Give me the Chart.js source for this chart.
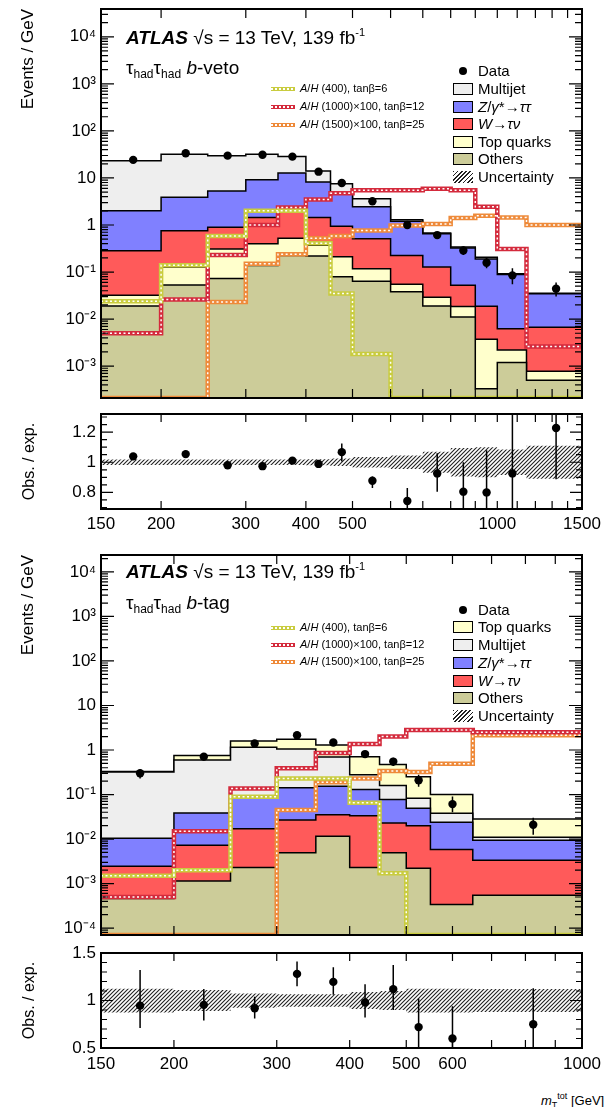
<!DOCTYPE html>
<html>
<head>
<meta charset="utf-8">
<title>ATLAS tau_had tau_had mT tot</title>
<script src="https://cdn.jsdelivr.net/npm/chart.js@4.4.1/dist/chart.umd.min.js"></script>
<style>
  body { margin: 0; background: #fff; }
  #page { position: relative; width: 608px; height: 1107px; overflow: hidden; font-family: "Liberation Sans", Arial, sans-serif; color: #000; }
  canvas { position: absolute; left: 0; }
  .txt { position: absolute; white-space: nowrap; line-height: 1; }
  .txt sup { font-size: 11px; vertical-align: 8px; line-height: 0; }
  .txt sub { font-size: 12px; vertical-align: -4px; line-height: 0; }
  .atlas { font-size: 19px; }
  .leg { font-size: 15px; }
  .sigtxt { font-size: 11px; }
  .xtitle { font-size: 13px; }
  .xtitle sup { font-size: 9px; vertical-align: 6px; }
  .xtitle sub { font-size: 9px; vertical-align: -3px; }
  .box { position: absolute; width: 18px; height: 10px; border: 1.5px solid #000; }
  .hatch { position: absolute; width: 20px; height: 12px; background: repeating-linear-gradient(135deg, #222 0 1.2px, #fff 1.2px 3px); }
  .dot { position: absolute; width: 8px; height: 8px; border-radius: 50%; background: #000; }
  .sig { position: absolute; width: 24px; height: 4px; }
  .sig::after { content: ""; position: absolute; left: 0; right: 0; top: 1.3px; height: 1.4px; background: repeating-linear-gradient(90deg, #fff 0 2px, transparent 2px 4px); }
</style>
</head>
<body>
<div id="page">
  <canvas id="vetoMain" width="608" height="410" style="top:0px"></canvas>
  <canvas id="vetoRatio" width="608" height="136" style="top:404px"></canvas>
  <canvas id="tagMain" width="608" height="400" style="top:545px"></canvas>
  <canvas id="tagRatio" width="608" height="135" style="top:945px"></canvas>
</div>
<script>
// ---- b-veto (events / GeV) ----
const vetoEdges = [150, 200, 250, 300, 350, 400, 450, 500, 600, 700, 800, 900, 1000, 1150, 1500];
const vetoOthers   = [0.019, 0.053, 0.073, 0.138, 0.225, 0.22, 0.079, 0.064, 0.038, 0.019, 0.011, 0.00033, 0.0012, 0.0005];
const vetoTop      = [0.013, 0.075, 0.237, 0.262, 0.295, 0.15, 0.131, 0.054, 0.017, 0.010, 0.0076, 0.0034, 0.001, 0.00028];
const vetoW        = [0.25, 0.63, 0.58, 1.05, 1.48, 1.08, 0.73, 0.39, 0.17, 0.099, 0.034, 0.015, 0.004, 0.0059];
const vetoZ        = [1.72, 3.14, 4.36, 7.75, 10.7, 6.75, 3.86, 1.94, 0.97, 0.52, 0.27, 0.17, 0.082, 0.028];
const vetoMultijet = [21.3, 28.1, 24.5, 22.8, 15.7, 5.8, 2.7, 1.15, 0.1, 0.03, 0.017, 0.017, 0.004, 0.0005];
const vetoSig400   = [0.024, 0.14, 0.58, 2.0, 2.0, 0.41, 0.035, 0.0018, 0, 0, 0, 0, 0, 0];
const vetoSig1000  = [0.005, 0.026, 0.23, 1.0, 2.35, 3.5, 4.7, 5.5, 5.5, 5.9, 5.5, 2.45, 0.31, 0.0026];
const vetoSig1500  = [0, 0, 0.023, 0.15, 0.24, 0.52, 0.58, 0.76, 0.97, 1.05, 1.4, 1.57, 1.45, 1.0];
const vetoData     = [24.2, 33.5, 29.8, 31, 28.4, 13.6, 7.8, 3.2, 1.0, 0.61, 0.287, 0.158, 0.085, 0.044];
const vetoDataLo   = [23.3, 32.5, 29.0, 30.2, 27.6, 13.0, 7.3, 2.95, 0.9, 0.53, 0.23, 0.12, 0.055, 0.03];
const vetoDataHi   = [25.1, 34.5, 30.6, 31.8, 29.2, 14.2, 8.3, 3.45, 1.1, 0.69, 0.35, 0.2, 0.12, 0.06];
const vetoRatio    = [1.039, 1.054, 0.98, 0.974, 1.011, 0.989, 1.067, 0.877, 0.743, 0.926, 0.805, 0.80, 0.926, 1.227];
const vetoRatioLo  = [1.03, 1.045, 0.972, 0.965, 1.0, 0.975, 1.005, 0.83, 0.68, 0.805, 0.6, 0.55, 0.5, 0.887];
const vetoRatioHi  = [1.05, 1.064, 0.99, 0.985, 1.02, 1.003, 1.125, 0.905, 0.83, 1.06, 1.0, 1.08, 1.5, 1.5];
const vetoBand     = [0.018, 0.018, 0.018, 0.018, 0.018, 0.02, 0.025, 0.035, 0.045, 0.07, 0.095, 0.1, 0.085, 0.11];
const vetoXLabels  = [150, 200, 300, 400, 500, 1000, 1500];

// ---- b-tag (events / GeV) ----
const tagEdges = [150, 200, 250, 300, 350, 400, 450, 500, 550, 650, 1000];
const tagOthers    = [0.00046, 0.00115, 0.0023, 0.0049, 0.0115, 0.0023, 0.0049, 0.0022, 0.00034, 0.00055];
const tagW         = [0.0020, 0.0061, 0.0147, 0.022, 0.0235, 0.031, 0.018, 0.0178, 0.0055, 0.0028];
const tagZ         = [0.008, 0.031, 0.065, 0.116, 0.118, 0.096, 0.054, 0.029, 0.018, 0.006];
const tagMultijet  = [0.31, 0.56, 1.07, 0.91, 0.54, 0.15, 0.083, 0.033, 0.014, 0.0017];
const tagTop       = [0.01, 0.15, 0.45, 0.7, 0.6, 0.43, 0.31, 0.168, 0.062, 0.017];
const tagSig400    = [0.0015, 0.002, 0.089, 0.23, 0.23, 0.065, 0.0017, 0, 0, 0];
const tagSig1000   = [0.0005, 0.015, 0.136, 0.39, 0.86, 1.36, 2.0, 2.8, 2.8, 2.5];
const tagSig1500   = [0, 0, 0, 0.045, 0.19, 0.23, 0.34, 0.32, 0.49, 2.15];
const tagData      = [0.30, 0.71, 1.4, 2.15, 1.48, 0.81, 0.55, 0.21, 0.061, 0.021];
const tagDataLo    = [0.23, 0.58, 1.23, 1.95, 1.32, 0.68, 0.44, 0.15, 0.04, 0.0125];
const tagDataHi    = [0.37, 0.85, 1.6, 2.37, 1.66, 0.95, 0.67, 0.28, 0.09, 0.03];
const tagRatio     = [0.946, 0.954, 0.918, 1.28, 1.196, 0.98, 1.12, 0.72, 0.60, 0.75];
const tagRatioLo   = [0.71, 0.79, 0.81, 1.15, 1.06, 0.82, 0.90, 0.45, 0.45, 0.45];
const tagRatioHi   = [1.32, 1.12, 1.04, 1.41, 1.35, 1.17, 1.375, 1.02, 0.94, 1.13];
const tagBand      = [0.125, 0.11, 0.075, 0.065, 0.065, 0.09, 0.1, 0.125, 0.125, 0.12];
const tagXLabels   = [150, 200, 300, 400, 500, 600, 1000];

const FONT = '"Liberation Sans", Arial, sans-serif';
const C_OTHERS = '#cccc99', C_TOP = '#ffffcc', C_W = '#ff5a5a', C_Z = '#8080ff', C_MJ = '#eeeeee';
const C_S400 = '#c9cc3f', C_S1000 = '#d42a3c', C_S1500 = '#ee8a3a';

const SUP = { '-': '⁻', '0': '⁰', '1': '¹', '2': '²', '3': '³', '4': '⁴' };
function powLabel(v) {
  const e = Math.round(Math.log10(v));
  if (e === 0) return '1';
  if (e === 1) return '10';
  return '10' + String(e).split('').map(ch => SUP[ch]).join('');
}

function steps(edges, vals, floor) {
  const pts = vals.map((v, i) => ({ x: edges[i], y: Math.max(v, floor) }));
  pts.push({ x: edges[edges.length - 1], y: Math.max(vals[vals.length - 1], floor) });
  return pts;
}
function centers(edges) {
  return edges.slice(0, -1).map((e, i) => (e + edges[i + 1]) / 2);
}
function errorBars(edges, lo, hi) {
  const pts = [];
  centers(edges).forEach((c, i) => pts.push({ x: c, y: lo[i] }, { x: c, y: hi[i] }, { x: c, y: null }));
  return pts;
}
function cumulate(layers) {
  let run = layers[0].map(() => 0);
  return layers.map(l => (run = run.map((s, i) => s + l[i])));
}
function logTicks(lo, hi) {
  const major = [], minor = [];
  for (let e = Math.floor(Math.log10(lo)); e <= Math.ceil(Math.log10(hi)); e++) {
    const d = Math.pow(10, e);
    if (d >= lo && d <= hi) major.push(d);
    for (let k = 2; k < 10; k++) if (k * d >= lo && k * d <= hi) minor.push(k * d);
  }
  return { major, minor };
}
function hundreds(max) {
  const t = [];
  for (let v = 200; v < max; v += 100) t.push(v);
  return t;
}

let hatchPattern;
function hatch() {
  if (hatchPattern) return hatchPattern;
  const c = document.createElement('canvas');
  c.width = 4; c.height = 4;
  const g = c.getContext('2d');
  g.strokeStyle = '#222';
  g.lineWidth = 1.1;
  g.beginPath();
  g.moveTo(0, 4); g.lineTo(4, 0);
  g.moveTo(-1, 1); g.lineTo(1, -1);
  g.moveTo(3, 5); g.lineTo(5, 3);
  g.stroke();
  hatchPattern = c.getContext('2d').createPattern(c, 'repeat');
  return hatchPattern;
}

// frame and inward ticks, ATLAS style
const frameTicks = {
  id: 'frameTicks',
  afterDatasetsDraw(chart, args, o) {
    const { ctx, chartArea: a, scales: { x, y } } = chart;
    ctx.save();
    ctx.strokeStyle = '#000';
    ctx.lineWidth = 1.2;
    ctx.beginPath();
    const hTick = (v, len) => {
      const p = y.getPixelForValue(v);
      if (p < a.top - 0.5 || p > a.bottom + 0.5) return;
      ctx.moveTo(a.left, p); ctx.lineTo(a.left + len, p);
      ctx.moveTo(a.right, p); ctx.lineTo(a.right - len, p);
    };
    const vTick = (v, len) => {
      const p = x.getPixelForValue(v);
      ctx.moveTo(p, a.bottom); ctx.lineTo(p, a.bottom - len);
      ctx.moveTo(p, a.top); ctx.lineTo(p, a.top + len);
    };
    o.yMajor.forEach(v => hTick(v, o.majorLen));
    o.yMinor.forEach(v => hTick(v, o.minorLen));
    o.xTicks.forEach(v => vTick(v, o.xLen));
    ctx.stroke();
    ctx.lineWidth = 2;
    ctx.strokeRect(a.left, a.top, a.right - a.left, a.bottom - a.top);
    ctx.restore();
  }
};

function yAxis(type, min, max, tickVals, label, title) {
  return {
    type, min, max, bounds: 'data',
    grid: { display: false, drawTicks: false },
    border: { display: false },
    afterBuildTicks: s => { s.ticks = tickVals.map(v => ({ value: v })); },
    afterFit: s => { s.width = 101; s.paddingTop = 0; s.paddingBottom = 0; },
    ticks: { autoSkip: false, callback: label, font: { size: 17, family: FONT }, color: '#000', padding: 5 },
    title: title
  };
}

function baseOptions(pad, scales, ticksOpt) {
  return {
    responsive: false,
    animation: false,
    events: [],
    layout: { padding: pad },
    scales,
    plugins: { legend: { display: false }, tooltip: { enabled: false }, frameTicks: ticksOpt }
  };
}

function drawMain(id, edges, layers, colors, signals, data, lo, hi, yMin, yMax, pad) {
  const cum = cumulate(layers);
  const datasets = [
    { data: centers(edges).map((c, i) => ({ x: c, y: data[i] })), showLine: false, pointRadius: 4.2, pointBackgroundColor: '#000', pointBorderWidth: 0, order: 0 },
    { data: errorBars(edges, lo, hi), borderColor: '#000', borderWidth: 1.5, pointRadius: 0, spanGaps: false, order: 1 }
  ];
  signals.forEach(([vals, color]) => {
    datasets.push({ data: steps(edges, vals, yMin), stepped: true, borderColor: color, borderWidth: 4.5, pointRadius: 0, fill: false, order: 3 });
    datasets.push({ data: steps(edges, vals, yMin), stepped: true, borderColor: '#fff', borderWidth: 1.5, borderDash: [2, 2.5], pointRadius: 0, fill: false, order: 2 });
  });
  cum.forEach((c, i) => datasets.push({
    data: steps(edges, c, 0), stepped: true, borderColor: '#000', borderWidth: 1.5,
    backgroundColor: colors[i], fill: 'start', pointRadius: 0, order: 10 + i
  }));
  const lt = logTicks(yMin, yMax);
  const xMax = edges[edges.length - 1];
  new Chart(document.getElementById(id), {
    type: 'line',
    data: { datasets },
    options: baseOptions(pad, {
      x: { type: 'logarithmic', min: edges[0], max: xMax, bounds: 'data', display: false },
      y: yAxis('logarithmic', yMin, yMax, lt.major, powLabel, {
        display: true, text: 'Events / GeV', align: 'end', color: '#000',
        font: { size: 17, family: FONT }, padding: { top: 18, bottom: 0 }
      })
    }, { yMajor: lt.major, yMinor: lt.minor, xTicks: hundreds(xMax), majorLen: 13, minorLen: 7, xLen: 9 }),
    plugins: [frameTicks]
  });
}

function drawRatio(id, edges, ratio, lo, hi, band, yMin, yMax, yMajor, yMinorStep, xLabels, pad, axisH, labelPad) {
  const xMax = edges[edges.length - 1];
  const yMinor = [];
  for (let v = Math.ceil(yMin / yMinorStep) * yMinorStep; v <= yMax; v += yMinorStep) yMinor.push(+v.toFixed(3));
  new Chart(document.getElementById(id), {
    type: 'line',
    data: {
      datasets: [
        { data: centers(edges).map((c, i) => ({ x: c, y: ratio[i] })), showLine: false, pointRadius: 4.2, pointBackgroundColor: '#000', pointBorderWidth: 0, order: 0 },
        { data: errorBars(edges, lo, hi), borderColor: '#000', borderWidth: 1.5, pointRadius: 0, spanGaps: false, order: 1 },
        { data: steps(edges, band.map(b => 1 - b), 0), stepped: true, borderWidth: 0, pointRadius: 0, fill: false, order: 3 },
        { data: steps(edges, band.map(b => 1 + b), 0), stepped: true, borderWidth: 0, pointRadius: 0, fill: '-1', backgroundColor: hatch(), order: 2 }
      ]
    },
    options: baseOptions(pad, {
      x: {
        type: 'logarithmic', min: edges[0], max: xMax, bounds: 'data',
        grid: { display: false, drawTicks: false }, border: { display: false },
        afterBuildTicks: s => { s.ticks = xLabels.map(v => ({ value: v })); },
        afterFit: s => { s.height = axisH; s.paddingLeft = 0; s.paddingRight = 0; },
        ticks: { autoSkip: false, maxRotation: 0, callback: v => String(v), font: { size: 17, family: FONT }, color: '#000', padding: labelPad }
      },
      y: yAxis('linear', yMin, yMax, yMajor, v => String(v), {
        display: true, text: 'Obs. / exp.', align: 'center', color: '#000',
        font: { size: 16, family: FONT }, padding: { top: 20, bottom: 0 }
      })
    }, { yMajor, yMinor, xTicks: hundreds(xMax), majorLen: 12, minorLen: 6, xLen: 8 }),
    plugins: [frameTicks]
  });
}

drawMain('vetoMain', vetoEdges,
  [vetoOthers, vetoTop, vetoW, vetoZ, vetoMultijet], [C_OTHERS, C_TOP, C_W, C_Z, C_MJ],
  [[vetoSig400, C_S400], [vetoSig1000, C_S1000], [vetoSig1500, C_S1500]],
  vetoData, vetoDataLo, vetoDataHi, 2.1e-4, 3.9e4, { left: 0, right: 26, top: 9, bottom: 12 });
drawRatio('vetoRatio', vetoEdges, vetoRatio, vetoRatioLo, vetoRatioHi, vetoBand,
  0.69, 1.32, [0.8, 1, 1.2], 0.05, vetoXLabels, { left: 0, right: 26, top: 10, bottom: 0 }, 31, 5);

drawMain('tagMain', tagEdges,
  [tagOthers, tagW, tagZ, tagMultijet, tagTop], [C_OTHERS, C_W, C_Z, C_MJ, C_TOP],
  [[tagSig400, C_S400], [tagSig1000, C_S1000], [tagSig1500, C_S1500]],
  tagData, tagDataLo, tagDataHi, 7e-5, 2.4e4, { left: 0, right: 26, top: 10, bottom: 10 });
drawRatio('tagRatio', tagEdges, tagRatio, tagRatioLo, tagRatioHi, tagBand,
  0.5, 1.5, [0.5, 1, 1.5], 0.1, tagXLabels, { left: 0, right: 26, top: 8, bottom: 0 }, 32, 6);

// ---- text, labels and legends ----
const page = document.getElementById('page');
function put(cls, left, top, html) {
  const d = document.createElement('div');
  d.className = cls;
  d.style.left = left + 'px';
  d.style.top = top + 'px';
  if (html) d.innerHTML = html;
  page.appendChild(d);
  return d;
}

const sigLabels = [
  '<i>A</i>/<i>H</i> (400), tanβ=6',
  '<i>A</i>/<i>H</i> (1000)×100, tanβ=12',
  '<i>A</i>/<i>H</i> (1500)×100, tanβ=25'
];
const sigColors = [C_S400, C_S1000, C_S1500];
const nameZ = '<i>Z</i>/<i>γ</i>*→<i>ττ</i>';
const nameW = '<i>W</i>→<i>τν</i>';
const vetoLegend = [['Multijet', C_MJ], [nameZ, C_Z], [nameW, C_W], ['Top quarks', C_TOP], ['Others', C_OTHERS]];
const tagLegend = [['Top quarks', C_TOP], ['Multijet', C_MJ], [nameZ, C_Z], [nameW, C_W], ['Others', C_OTHERS]];

function panelText(atlasY, chanY, channel, legRows, legY, sigY) {
  put('txt atlas', 126, atlasY - 10, '<b><i>ATLAS</i></b> √s = 13 TeV, 139 fb<sup>-1</sup>');
  put('txt atlas', 126, chanY - 10, 'τ<sub>had</sub>τ<sub>had</sub> ' + channel);
  put('dot', 459, legY[0] - 4);
  put('txt leg', 478, legY[0] - 8, 'Data');
  legRows.forEach(([name, color], i) => {
    put('box', 453, legY[i + 1] - 6).style.background = color;
    put('txt leg', 478, legY[i + 1] - 8, name);
  });
  put('hatch', 453, legY[6] - 6);
  put('txt leg', 478, legY[6] - 8, 'Uncertainty');
  sigLabels.forEach((s, i) => {
    put('sig', 271, sigY[i] - 2).style.background = sigColors[i];
    put('txt sigtxt', 300, sigY[i] - 6, s);
  });
}

panelText(38, 68, '<i>b</i>-veto', vetoLegend, [71, 89, 107, 124, 142, 159, 177], [89, 107, 125]);
panelText(572, 603, '<i>b</i>-tag', tagLegend, [610, 627, 645, 663, 681, 698, 716], [628, 645, 662]);

put('txt xtitle', 541, 1094, '<i>m</i><sub>T</sub><sup>tot</sup> [GeV]');
</script>
</body>
</html>
